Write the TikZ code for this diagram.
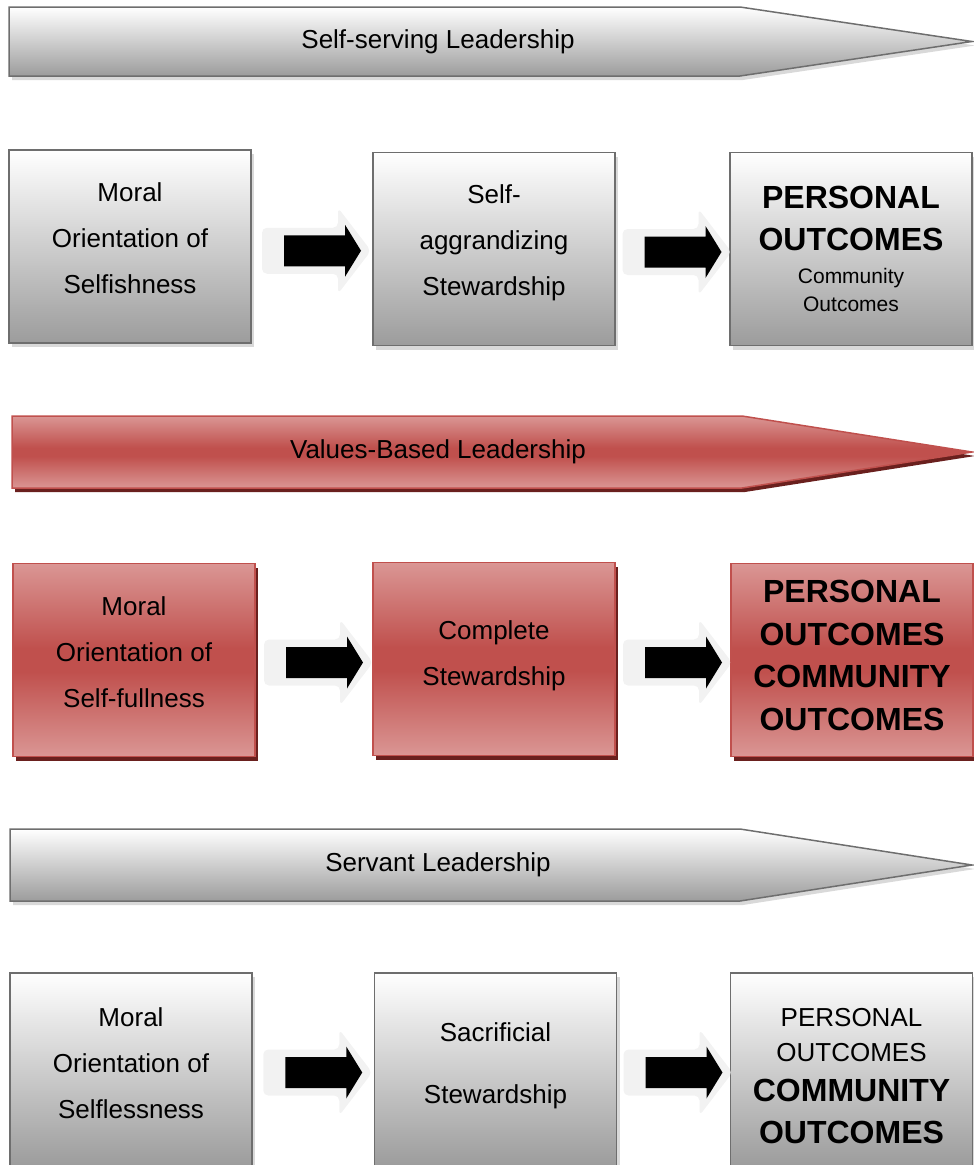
\documentclass[tikz,border=0pt]{standalone}
\usepackage{fontspec}
\setmainfont{Liberation Sans}
\usetikzlibrary{calc,shadows}

\definecolor{edgegray}{HTML}{6E6E6E}
\definecolor{darkgray}{HTML}{9C9C9C}
\definecolor{shadowgray}{HTML}{D9D9D9}
\definecolor{redlight}{HTML}{DA9694}
\definecolor{redmid}{HTML}{C0504D}
\definecolor{redshadow}{HTML}{6A201E}
\definecolor{glowgray}{HTML}{F2F2F2}

\pgfdeclareverticalshading{redband}{100bp}{color(0bp)=(redlight); color(25bp)=(redlight); color(47bp)=(redmid); color(53bp)=(redmid); color(75bp)=(redlight); color(100bp)=(redlight)}

\tikzset{
  grayshape/.style={draw=edgegray, line width=1.5pt, top color=white, bottom color=darkgray,
    drop shadow={shadow xshift=3pt, shadow yshift=-4pt, opacity=1, fill=shadowgray}},
  redshape/.style={draw=redmid, line width=1.5pt, shading=redband,
    drop shadow={shadow xshift=3pt, shadow yshift=-4pt, opacity=1, fill=redshadow}},
  graybox/.style={grayshape, minimum width=242pt, minimum height=193pt},
  redbox/.style={redshape, minimum width=242pt, minimum height=193pt},
  boxtext/.style={align=center, font=\fontsize{26}{46}\selectfont},
  bigtext/.style={align=center, font=\fontsize{32}{42.5}\selectfont\bfseries},
}

% fat arrow in the gap between two boxes
\newcommand{\gaparrow}[2]{%
  \begin{scope}[shift={($(#1.east)!0.5!(#2.west)+(0,-3)$)}]
    \fill[glowgray, rounded corners=5pt] (-50,-23) -- (26,-23) -- (26,-43) -- (59,0) -- (26,43) -- (26,23) -- (-50,23) -- cycle;
    \fill[black] (-28,-15.5) -- (33,-15.5) -- (33,-26) -- (49,0) -- (33,26) -- (33,15.5) -- (-28,15.5) -- cycle;
  \end{scope}}

\begin{document}
\begin{tikzpicture}[x=1pt,y=1pt]
\useasboundingbox (0,0) rectangle (974,-1165);

% self-serving
\path[grayshape] (9,-7) -- (740,-7) -- (972,-41.5) -- (740,-76) -- (9,-76) -- cycle;
\node[boxtext] (lead1) at (438,-41.5) {Self-serving Leadership};

\node[graybox] (moral1) at (130,-246.5) {};
\node[graybox] (stew1) at (494,-249) {};
\node[graybox] (out1) at (851,-249) {};
\node[boxtext] (moral1txt) at (130,-238) {Moral\\Orientation of\\Selfishness};
\node[boxtext] (stew1txt) at (494,-243) {Self-\\aggrandizing\\Stewardship};
\node[bigtext] (out1txt) at (851,-249) {PERSONAL\\OUTCOMES\\[-9.5pt]{\fontsize{21}{21}\selectfont\mdseries Community}\\[-14.5pt]{\fontsize{21}{21}\selectfont\mdseries Outcomes}};

\gaparrow{moral1}{stew1}
\gaparrow{stew1}{out1}

% values-based
\path[redshape] (12,-416) -- (742,-416) -- (972,-452) -- (742,-488) -- (12,-488) -- cycle;
\node[boxtext] (lead2) at (438,-452) {Values-Based Leadership};

\node[redbox] (moral2) at (134,-660) {};
\node[redbox] (stew2) at (494,-659) {};
\node[redbox] (out2) at (852,-660) {};
\node[boxtext] (moral2txt) at (134,-652) {Moral\\Orientation of\\Self-fullness};
\node[boxtext] (stew2txt) at (494,-655.5) {Complete\\Stewardship};
\node[bigtext] (out2txt) at (852,-655.5) {PERSONAL\\OUTCOMES\\COMMUNITY\\OUTCOMES};

\gaparrow{moral2}{stew2}
\gaparrow{stew2}{out2}

% servant
\path[grayshape] (10,-829) -- (740,-829) -- (972,-865) -- (740,-901) -- (10,-901) -- cycle;
\node[boxtext] (lead3) at (438,-865) {Servant Leadership};

\node[graybox] (moral3) at (131,-1069.5) {};
\node[graybox] (stew3) at (495.5,-1069.5) {};
\node[graybox] (out3) at (851.5,-1069.5) {};
\node[boxtext] (moral3txt) at (131,-1063) {Moral\\Orientation of\\Selflessness};
\node[boxtext, font=\fontsize{26}{62}\selectfont] (stew3txt) at (495.5,-1065.5) {Sacrificial\\Stewardship};
\node[boxtext, font=\fontsize{26}{35}\selectfont] (out3txt) at (851.5,-1075.6) {PERSONAL\\OUTCOMES\\[5pt]{\fontsize{32}{32}\selectfont\bfseries COMMUNITY}\\[7pt]{\fontsize{32}{32}\selectfont\bfseries OUTCOMES}};

\gaparrow{moral3}{stew3}
\gaparrow{stew3}{out3}

\end{tikzpicture}
\end{document}
